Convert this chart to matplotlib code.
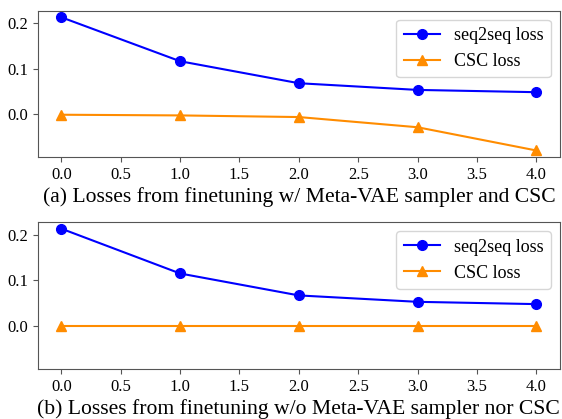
import matplotlib
matplotlib.use("Agg")
import matplotlib.pyplot as plt

plt.rcParams['font.family'] = ['Liberation Serif', 'DejaVu Serif']

epochs = [0, 1, 2, 3, 4]
seq2seq_a = [0.2125, 0.116, 0.0677, 0.053, 0.048]
csc_a = [-0.0015, -0.003, -0.0066, -0.029, -0.080]
seq2seq_b = [0.2130, 0.115, 0.067, 0.0530, 0.048]
csc_b = [0.0, 0.0, 0.0, 0.0, 0.0]
captions = ["(a) Losses from finetuning w/ Meta-VAE sampler and CSC",
            "(b) Losses from finetuning w/o Meta-VAE sampler nor CSC"]
yticks = [0.0, 0.1, 0.2]

fig = plt.figure(figsize=(5.62, 4.19), dpi=100)
ax1 = fig.add_axes([0.067, 0.625, 0.9295, 0.3495])
ax2 = fig.add_axes([0.067, 0.1186, 0.9295, 0.3509], sharey=ax1)

spine_col = '#555555'
for ax, s, c, cap in [(ax1, seq2seq_a, csc_a, captions[0]), (ax2, seq2seq_b, csc_b, captions[1])]:
    ax.plot(epochs, s, color='blue', marker='o', markersize=7, linewidth=1.5, label='seq2seq loss')
    ax.plot(epochs, c, color='darkorange', marker='^', markersize=7, linewidth=1.5, label='CSC loss')
    ax.set_yticks(yticks)
    ax.set_xticks([0, 0.5, 1, 1.5, 2, 2.5, 3, 3.5, 4])
    ax.set_xticklabels(["0.0", "0.5", "1.0", "1.5", "2.0", "2.5", "3.0", "3.5", "4.0"])
    ax.set_yticklabels(["0.0", "0.1", "0.2"])
    ax.tick_params(labelsize=12, colors='black')
    for sp in ax.spines.values():
        sp.set_color(spine_col)
    ax.tick_params(color=spine_col)
    ax.set_xlabel(cap, fontsize=15.6, labelpad=3)
    ax.legend(loc='upper right', fontsize=13)

ax1.set_ylim(-0.0946, 0.227)
fig.savefig("out.png", dpi=100)
